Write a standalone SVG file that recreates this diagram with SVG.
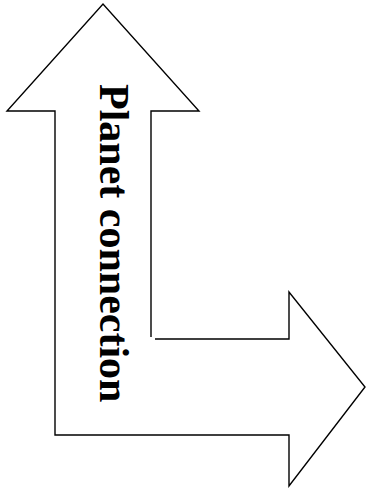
<svg xmlns="http://www.w3.org/2000/svg" width="366" height="488" viewBox="0 0 366 488">
<style>
.outline{fill:none;stroke:#000;stroke-width:1.4;stroke-linejoin:miter}
.label{font-family:"Liberation Serif","Times New Roman",serif;font-weight:bold;font-size:42px;fill:#000}
</style>
<rect width="366" height="488" fill="#fff"/>
<g id="connectors">
<path class="outline" d="M151,337 L151,111 L199,111 L103,4 L7,111 L55,111 L55,435 L151,435"/>
<path class="outline" d="M155,339 L289,339 L289,292 L365,387 L289,486 L289,435 L151,435"/>
</g>
<g id="label-node">
<text class="label" transform="translate(100,84) rotate(90)" x="0" y="0">Planet connection</text>
</g>
</svg>
